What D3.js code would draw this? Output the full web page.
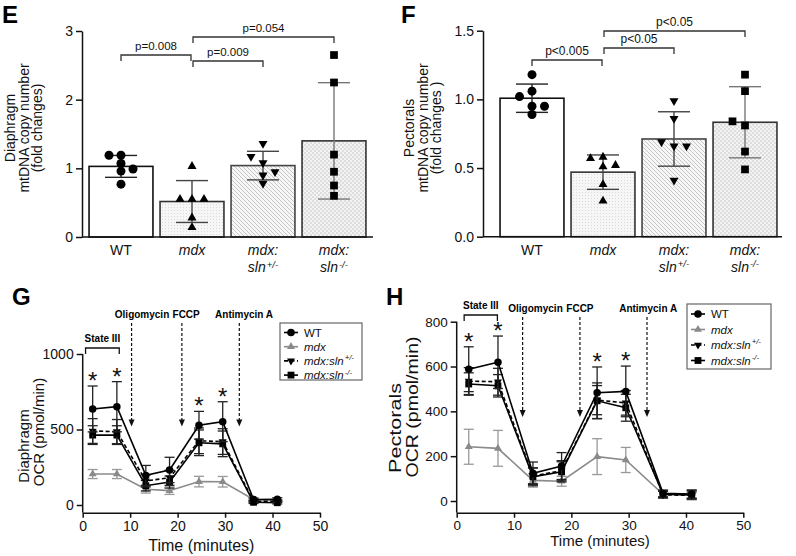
<!DOCTYPE html>
<html><head><meta charset="utf-8">
<script src="https://cdn.jsdelivr.net/npm/d3@7"></script>
<style>body{margin:0;background:#fff} svg{display:block;font-family:"Liberation Sans",Arial,sans-serif}</style>
</head><body>
<svg id="c" width="796" height="556"></svg>
<script>
// ---------- data ----------
const groups = ["WT", "mdx", "mdx:sln+/-", "mdx:sln-/-"];
// Panel E: diaphragm mtDNA copy number (fold change), individual animals
const diaWT  = [1.19, 1.19, 1.07, 0.96, 0.99, 0.77];
const diaMdx = [1.03, 0.55, 0.55, 0.55, 0.28, 0.14];
const diaHet = [1.36, 1.08, 0.90, 0.78, 1.17, 0.95];
const diaKO  = [2.65, 2.25, 1.20, 0.95, 0.75, 0.60];
const diaTicks = [0, 1, 2, 3];
const diaP = ["p=0.008", "p=0.009", "p=0.054"];
// Panel F: pectorals mtDNA copy number
const pecWT  = [1.18, 1.06, 1.02, 0.95, 0.95, 0.89];
const pecMdx = [0.58, 0.57, 0.51, 0.52, 0.38, 0.26];
const pecHet = [0.99, 0.86, 0.66, 0.69, 0.66, 0.41];
const pecKO  = [1.18, 1.06, 0.81, 0.84, 0.62, 0.49];
const pecTicks = [0, 0.5, 1.0, 1.5];
const pecP = ["p<0.005", "p<0.05", "p<0.05"];
// Panels G/H: OCR time course (mean, SD)
const timeMin = [2.1, 7.2, 13.3, 18.3, 24.5, 29.5, 36, 41];
const timeTicks = [0, 10, 20, 30, 40, 50];
const diaOcrWT    = [636, 651, 196, 232, 528, 552, 36, 38];
const diaOcrWTsd  = [152, 166, 66, 84, 92, 132, 10, 10];
const diaOcrMdx   = [205, 205, 104, 95, 155, 154, 36, 30];
const diaOcrMdxSd = [30, 30, 25, 25, 35, 35, 8, 8];
const diaOcrHet   = [490, 486, 160, 180, 425, 420, 25, 25];
const diaOcrHetSd = [82, 80, 40, 50, 85, 85, 8, 8];
const diaOcrKO    = [463, 463, 128, 152, 412, 405, 18, 15];
const diaOcrKOSd  = [62, 62, 35, 40, 85, 85, 8, 8];
const diaOcrTicks = [0, 500, 1000];
const pecOcrWT    = [588, 619, 124, 156, 483, 489, 34, 31];
const pecOcrWTsd  = [100, 117, 50, 60, 115, 113, 15, 18];
const pecOcrMdx   = [242, 235, 92, 88, 198, 183, 30, 25];
const pecOcrMdxSd = [78, 80, 30, 22, 80, 56, 15, 20];
const pecOcrHet   = [535, 532, 112, 135, 450, 438, 28, 25];
const pecOcrHetSd = [60, 60, 35, 45, 65, 55, 15, 15];
const pecOcrKO    = [522, 514, 108, 130, 447, 416, 30, 28];
const pecOcrKOSd  = [50, 50, 40, 45, 80, 60, 15, 20];
const pecOcrTicks = [0, 200, 400, 600, 800];
const sigIdx = [0, 1, 4, 5];
const injections = ["Oligomycin", "FCCP", "Antimycin A"];
const diaInjTime = [10.3, 20.9, 33.0];
const diaInjLabelTime = [12.5, 21.8, 34.0];
const pecInjTime = [11.5, 21.5, 33.2];
const pecInjLabelTime = [13.75, 21.5, 33.4];

// ---------- helpers ----------
const svg = d3.select("#c");
svg.append("rect").attr("width", 796).attr("height", 556).attr("fill", "#fff");
const defs = svg.append("defs");
{
  const a = defs.append("pattern").attr("id", "pStip").attr("width", 3).attr("height", 3).attr("patternUnits", "userSpaceOnUse");
  a.append("rect").attr("width", 3).attr("height", 3).attr("fill", "#f6f6f6");
  a.append("rect").attr("width", 1).attr("height", 1).attr("fill", "#dadada");
  const b = defs.append("pattern").attr("id", "pDiag").attr("width", 4).attr("height", 4).attr("patternUnits", "userSpaceOnUse");
  b.append("rect").attr("width", 4).attr("height", 4).attr("fill", "#f7f7f7");
  b.append("path").attr("d", "M-1,-1L5,5M-1,3L1,5M3,-1L5,1").attr("stroke", "#c6c6c6").attr("stroke-width", 1);
  const c = defs.append("pattern").attr("id", "pCheck").attr("width", 4).attr("height", 4).attr("patternUnits", "userSpaceOnUse");
  c.append("rect").attr("width", 4).attr("height", 4).attr("fill", "#f3f3f3");
  c.append("rect").attr("width", 2).attr("height", 2).attr("fill", "#dddddd");
  c.append("rect").attr("x", 2).attr("y", 2).attr("width", 2).attr("height", 2).attr("fill", "#dddddd");
}
const barFill = ["#ffffff", "url(#pStip)", "url(#pDiag)", "url(#pCheck)"];
const barStroke = ["#111", "#333", "#444", "#333"];
const errStroke = ["#222", "#444", "#444", "#777"];
const markers = ["circle", "triUp", "triDown", "square"];

function markerPath(type, s) {
  const r = s / 2;
  if (type === "circle") return `M${-r},0a${r},${r} 0 1,0 ${2 * r},0a${r},${r} 0 1,0 ${-2 * r},0Z`;
  if (type === "square") { const h = s * 0.45; return `M${-h},${-h}h${2 * h}v${2 * h}h${-2 * h}Z`; }
  const w = s * 1.05, h = w * 0.866;
  if (type === "triUp") return `M0,${-2 * h / 3}L${w / 2},${h / 3}L${-w / 2},${h / 3}Z`;
  return `M0,${2 * h / 3}L${w / 2},${-h / 3}L${-w / 2},${-h / 3}Z`;
}

function labelLines(name) {
  if (name.indexOf(":") < 0) return [[{ t: name, it: name !== "WT" }]];
  const [a, b] = name.split(":");
  const m = b.match(/^([a-z]+)(.*)$/);
  return [[{ t: a + ":", it: true }], [{ t: m[1], it: true }, { t: m[2], it: true, sup: true }]];
}
function addRich(textSel, parts) {
  parts.forEach(p => {
    const ts = textSel.append("tspan").text(p.t).attr("font-style", p.it ? "italic" : "normal");
    if (p.sup) ts.attr("font-size", "0.68em").attr("dy", "-0.45em").attr("dx", 1);
  });
}

function panelLetter(txt, x, y) {
  svg.append("text").attr("x", x).attr("y", y).attr("font-size", 24).attr("font-weight", "bold").text(txt);
}

// each line: [text, centerX, centerY, fontSize, length(optional)]
function yLabel(lines) {
  lines.forEach(([txt, cx, cy, size, len]) => {
    const t = svg.append("text").attr("transform", `translate(${cx},${cy}) rotate(-90)`)
      .attr("text-anchor", "middle").attr("dominant-baseline", "central").attr("font-size", size).attr("fill", "#111").text(txt);
    if (len) t.attr("textLength", len).attr("lengthAdjust", "spacingAndGlyphs");
  });
}

// ---------- bar panels ----------
function barPanel(o) {
  const g = svg.append("g");
  const x = d3.scaleBand().domain(groups).range(o.xr).paddingInner(0.1).paddingOuter(0.05);
  const y = d3.scaleLinear().domain([0, o.ticks[o.ticks.length - 1]]).range(o.yr);
  o.data.forEach((vals, i) => {
    const m = d3.mean(vals), sd = d3.deviation(vals);
    const x0 = x(groups[i]), cx = x0 + x.bandwidth() / 2;
    g.append("rect").attr("x", x0).attr("y", y(m)).attr("width", x.bandwidth()).attr("height", y(0) - y(m))
      .attr("fill", barFill[i]).attr("stroke", barStroke[i]).attr("stroke-width", 1.6);
    const eg = g.append("g").attr("stroke", errStroke[i]).attr("stroke-width", 1.4);
    eg.append("line").attr("x1", cx).attr("x2", cx).attr("y1", y(m + sd)).attr("y2", y(m - sd));
    [m + sd, m - sd].forEach(v => eg.append("line").attr("x1", cx - 16).attr("x2", cx + 16).attr("y1", y(v)).attr("y2", y(v)));
    // swarm placement
    const placed = []; let k = 0;
    vals.forEach(v => {
      const py = y(v);
      const free = px => placed.every(p => Math.hypot(p.x - px, p.y - py) >= 7.5);
      let px = cx;
      if (!free(cx)) {
        const first = (k % 2 === 0) ? -1 : 1;
        let done = false;
        for (let step = 1; step < 5 && !done; step++) {
          for (const sgn of [first, -first]) {
            const c = cx + sgn * step * o.dx;
            if (free(c)) { px = c; done = true; break; }
          }
        }
        k++;
      }
      placed.push({ x: px, y: py });
    });
    g.selectAll(null).data(placed).enter().append("path")
      .attr("d", markerPath(markers[i], markers[i] === "circle" ? 9 : 8.6))
      .attr("transform", d => `translate(${d.x},${d.y})`).attr("fill", "#000");
  });
  // axes
  const ya = g.append("g").attr("transform", `translate(${o.xaxis[0]},0)`)
    .call(d3.axisLeft(y).tickValues(o.ticks).tickFormat(o.fmt).tickSize(6).tickSizeOuter(0).tickPadding(3));
  ya.selectAll("text").attr("font-size", 14).attr("fill", "#111").attr("font-family", null);
  ya.selectAll("line,path").attr("stroke", "#111").attr("stroke-width", 1.5);
  g.append("line").attr("x1", o.xaxis[0]).attr("x2", o.xaxis[1]).attr("y1", y(0)).attr("y2", y(0)).attr("stroke", "#111").attr("stroke-width", 1.5);
  // category labels
  groups.forEach(name => {
    const cx = x(name) + x.bandwidth() / 2;
    labelLines(name).forEach((parts, li) => {
      const t = g.append("text").attr("x", cx).attr("y", y(0) + 18 + li * 17).attr("text-anchor", "middle").attr("font-size", 14).attr("fill", "#111");
      addRich(t, parts);
    });
  });
  // comparison brackets
  o.brackets.forEach((b, j) => {
    const xa = x(groups[b.a]) + x.bandwidth() / 2 + (b.a === 1 ? 1 : 0), xb = x(groups[b.b]) + x.bandwidth() / 2 - (b.b === 1 ? 1 : 0);
    g.append("path").attr("d", `M${xa},${b.y + 6}V${b.y}H${xb}V${b.y + 6}`).attr("fill", "none").attr("stroke", "#333").attr("stroke-width", 1.3);
    g.append("text").attr("x", (xa + xb) / 2).attr("y", b.y - 5).attr("text-anchor", "middle").attr("font-size", o.pSize).attr("fill", "#111").text(o.pLabels[j]);
  });
}

barPanel({
  data: [diaWT, diaMdx, diaHet, diaKO], ticks: diaTicks, fmt: d3.format("d"),
  xr: [85.5, 369.5], yr: [237, 31], xaxis: [82, 373], dx: 12, pLabels: diaP, pSize: 11.5,
  brackets: [{ a: 0, b: 1, y: 55 }, { a: 1, b: 2, y: 61 }, { a: 1, b: 3, y: 37 }]
});
barPanel({
  data: [pecWT, pecMdx, pecHet, pecKO], ticks: pecTicks, fmt: d3.format(".1f"),
  xr: [496.5, 780.5], yr: [236.7, 30.7], xaxis: [483, 782], dx: 12.5, pLabels: pecP, pSize: 12,
  brackets: [{ a: 0, b: 1, y: 60 }, { a: 1, b: 2, y: 48 }, { a: 1, b: 3, y: 31 }]
});
panelLetter("E", 2, 23);
panelLetter("F", 401, 23);
yLabel([["Diaphragm", 10, 128, 14], ["mtDNA copy number", 23.5, 128, 14], ["(fold changes)", 37, 128, 14]]);
yLabel([["Pectorals", 409, 128, 14], ["mtDNA copy number", 422.5, 128, 14], ["(fold changes )", 436, 128, 14]]);

// ---------- line panels ----------
const seriesStyle = [
  { name: "WT", color: "#000", dash: null, marker: "circle" },
  { name: "mdx", color: "#8a8a8a", dash: null, marker: "triUp" },
  { name: "mdx:sln+/-", color: "#000", dash: "4,2.5", marker: "triDown" },
  { name: "mdx:sln-/-", color: "#000", dash: null, marker: "square" }
];
function linePanel(o) {
  const g = svg.append("g");
  const x = d3.scaleLinear().domain([0, 50]).range(o.xr);
  const y = d3.scaleLinear().domain([0, o.ticks[o.ticks.length - 1]]).range(o.yr);
  const drawOrder = [1, 3, 2, 0];
  drawOrder.forEach(si => {
    const st = seriesStyle[si], mean = o.means[si], sd = o.sds[si];
    const pts = timeMin.map((t, i) => ({ x: x(t), y: y(mean[i]), hi: y(mean[i] + sd[i]), lo: y(mean[i] - sd[i]) }));
    const eg = g.append("g").attr("stroke", st.color === "#000" ? "#222" : "#999").attr("stroke-width", 1.3);
    pts.forEach(p => {
      eg.append("line").attr("x1", p.x).attr("x2", p.x).attr("y1", p.hi).attr("y2", p.lo);
      [p.hi, p.lo].forEach(v => eg.append("line").attr("x1", p.x - 5).attr("x2", p.x + 5).attr("y1", v).attr("y2", v));
    });
    g.append("path").attr("d", d3.line().x(d => d.x).y(d => d.y)(pts)).attr("fill", "none")
      .attr("stroke", st.color).attr("stroke-width", 1.6).attr("stroke-dasharray", st.dash);
    g.selectAll(null).data(pts).enter().append("path").attr("d", markerPath(st.marker, st.marker === "circle" ? 7.5 : 7.6))
      .attr("transform", d => `translate(${d.x},${d.y})`).attr("fill", st.color === "#000" ? "#000" : "#8a8a8a");
  });
  // asterisks above WT
  sigIdx.forEach(i => {
    const top = y(o.means[0][i] + o.sds[0][i]);
    g.append("text").attr("x", x(timeMin[i])).attr("y", top + 3).attr("text-anchor", "middle").attr("font-size", 24).attr("fill", "#111").text("*");
  });
  // axes
  const xa = g.append("g").attr("transform", `translate(0,${o.xAxisY})`)
    .call(d3.axisBottom(x).tickValues(timeTicks).tickFormat(d3.format("d")).tickSize(5).tickSizeOuter(0).tickPadding(3));
  xa.selectAll("text").attr("font-size", o.tickSize).attr("fill", "#111").attr("font-family", null);
  xa.selectAll("line,path").attr("stroke", "#111").attr("stroke-width", 1.5);
  const ya = g.append("g").attr("transform", `translate(${o.xr[0]},0)`)
    .call(d3.axisLeft(y).tickValues(o.ticks).tickFormat(d3.format("d")).tickSize(6).tickSizeOuter(0).tickPadding(3));
  ya.select(".domain").remove();
  ya.selectAll("text").attr("font-size", o.tickSize).attr("fill", "#111").attr("font-family", null);
  ya.selectAll("line").attr("stroke", "#111").attr("stroke-width", 1.5);
  g.append("line").attr("x1", o.xr[0]).attr("x2", o.xr[0]).attr("y1", o.yr[1]).attr("y2", o.xAxisY).attr("stroke", "#111").attr("stroke-width", 1.5);
  g.append("text").attr("x", (o.xr[0] + o.xr[1]) / 2).attr("y", o.xTitleY).attr("text-anchor", "middle").attr("font-size", o.xTitleSize).attr("fill", "#111").text("Time (minutes)");
  // State III bracket
  const sx0 = x(o.state[0]), sx1 = x(o.state[1]);
  g.append("path").attr("d", `M${sx0},${o.stateY + 6}V${o.stateY}H${sx1}V${o.stateY + 6}`).attr("fill", "none").attr("stroke", "#111").attr("stroke-width", 1.3);
  g.append("text").attr("x", (sx0 + sx1) / 2).attr("y", o.stateY - 6).attr("text-anchor", "middle").attr("font-size", 10).attr("font-weight", "bold").text("State III");
  // injections
  injections.forEach((nm, i) => {
    g.append("text").attr("x", x(o.injLabel[i])).attr("y", o.injTextY).attr("text-anchor", "middle").attr("font-size", 10).attr("font-weight", "bold").text(nm);
    const ax = x(o.inj[i]), y1 = o.injTextY + 5, y2 = y(o.arrowTo);
    g.append("line").attr("x1", ax).attr("x2", ax).attr("y1", y1).attr("y2", y2 - 6).attr("stroke", "#111").attr("stroke-width", 1.2).attr("stroke-dasharray", "3,2");
    g.append("path").attr("d", `M${ax - 3},${y2 - 7}L${ax + 3},${y2 - 7}L${ax},${y2}Z`).attr("fill", "#111");
  });
  // legend
  const L = o.legend;
  g.append("rect").attr("x", L.x).attr("y", L.y).attr("width", L.w).attr("height", L.h).attr("fill", "#fff").attr("stroke", "#666").attr("stroke-width", 1.2);
  seriesStyle.forEach((st, i) => {
    const ly = L.y + L.first + i * L.step;
    const col = st.color === "#000" ? "#000" : "#8a8a8a";
    g.append("line").attr("x1", L.x + 4).attr("x2", L.x + 18).attr("y1", ly).attr("y2", ly).attr("stroke", col).attr("stroke-width", 1.6).attr("stroke-dasharray", st.dash);
    g.append("path").attr("d", markerPath(st.marker, 7.6)).attr("transform", `translate(${L.x + 11},${ly})`).attr("fill", col);
    const t = g.append("text").attr("x", L.x + 24).attr("y", ly).attr("dominant-baseline", "central").attr("font-size", 11.5).attr("fill", "#111");
    const parts = st.name.indexOf(":") < 0 ? [{ t: st.name, it: st.name !== "WT" }] :
      [{ t: "mdx:sln", it: true }, { t: st.name.slice(7), it: true, sup: true }];
    addRich(t, parts);
  });
}

linePanel({
  means: [diaOcrWT, diaOcrMdx, diaOcrHet, diaOcrKO], sds: [diaOcrWTsd, diaOcrMdxSd, diaOcrHetSd, diaOcrKOSd],
  ticks: diaOcrTicks, xr: [82.7, 320], yr: [505, 354], xAxisY: 512.7, tickSize: 14,
  xTitleY: 551, xTitleSize: 16, state: [0.6, 7.7], stateY: 348, injTextY: 318, inj: diaInjTime, injLabel: diaInjLabelTime, arrowTo: 520,
  legend: { x: 280, y: 323, w: 82, h: 57, first: 9.5, step: 14.2 }
});
linePanel({
  means: [pecOcrWT, pecOcrMdx, pecOcrHet, pecOcrKO], sds: [pecOcrWTsd, pecOcrMdxSd, pecOcrHetSd, pecOcrKOSd],
  ticks: pecOcrTicks, xr: [456.7, 743.3], yr: [501, 321.7], xAxisY: 512.7, tickSize: 13.5,
  xTitleY: 546, xTitleSize: 15, state: [1.3, 7.1], stateY: 315, injTextY: 312, inj: pecInjTime, injLabel: pecInjLabelTime, arrowTo: 375,
  legend: { x: 687, y: 304, w: 84, h: 65, first: 10, step: 15.5 }
});
panelLetter("G", 12, 305);
panelLetter("H", 386, 305);
yLabel([["Diaphragm", 23, 446, 15], ["OCR (pmol/min)", 38, 432, 15]]);
yLabel([["Pectorals", 395, 428, 16, 90], ["OCR (pmol/min)", 412, 407, 16, 141]]);
</script>
</body></html>
